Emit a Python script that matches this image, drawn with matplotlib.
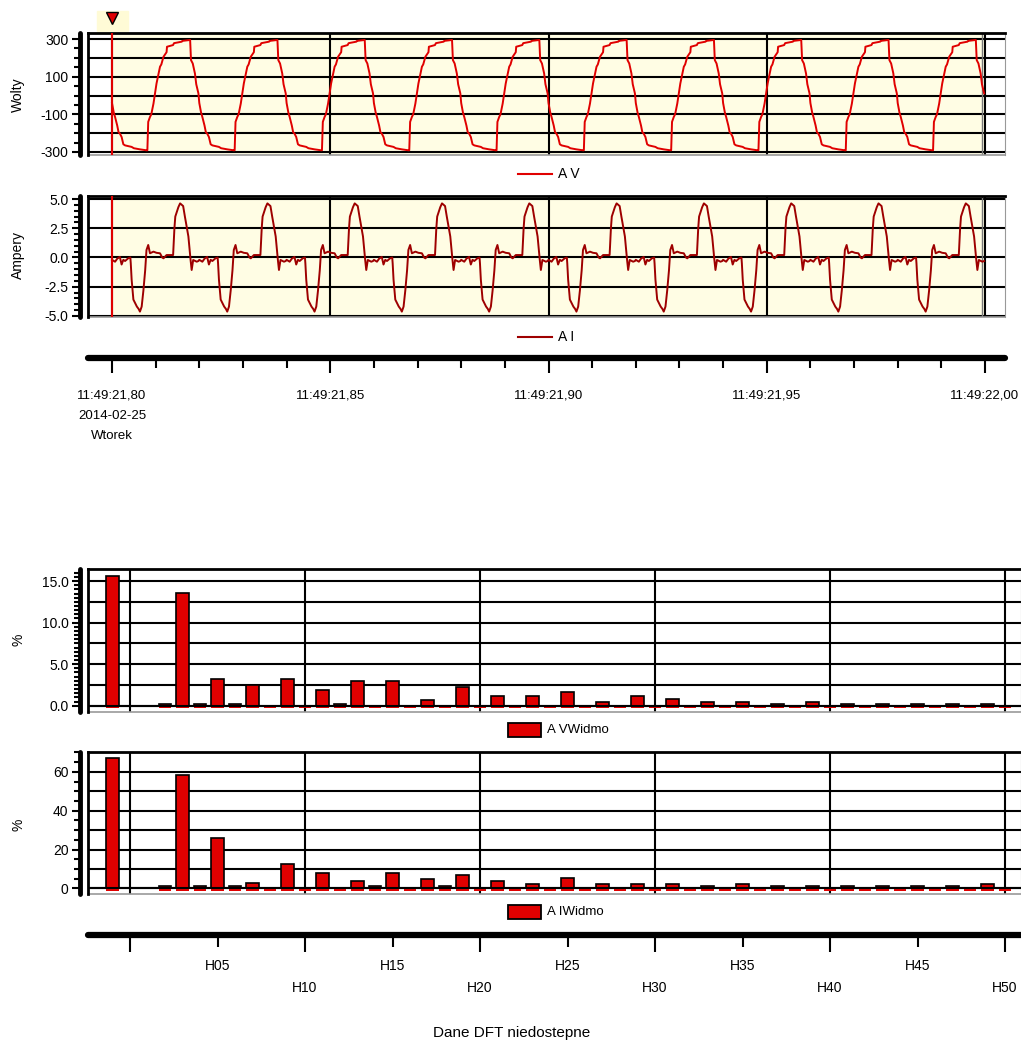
import matplotlib
matplotlib.use('Agg')
import matplotlib.pyplot as plt
import numpy as np
from matplotlib.lines import Line2D
from matplotlib.patches import Rectangle

plt.rcParams['font.family'] = ['Liberation Sans', 'DejaVu Sans']
plt.rcParams['font.size'] = 10
plt.rcParams['axes.unicode_minus'] = False
fs = 10

W, H = 1021, 1043

# one 20 ms period of each trace (ms, value)
v_cycle_t = [0.0, 0.4, 0.7, 1.2, 1.5, 1.8, 2.2, 2.6, 3.0, 4.5, 5.0, 6.4, 7.9, 8.1,
             8.3, 8.7, 9.0, 9.5, 10.2, 11.0, 11.3, 11.8, 12.5, 12.6, 14.0, 14.2,
             16.0, 16.1, 17.9, 18.1, 18.5, 19.0, 19.3, 19.8]
v_cycle = [-40, -90, -114, -160, -195, -202, -220, -259, -265, -273, -280, -286,
           -291, -291, -140, -114, -100, -43, 64, 153, 165, 206, 230, 259, 268,
           278, 286, 290, 295, 188, 170, 117, 60, 11]

i_cycle_t = [0.0, 0.7, 1.2, 1.8, 2.2, 2.6, 3.0, 3.7, 4.2, 4.3, 4.5, 4.9, 5.3, 5.7,
             6.1, 6.4, 6.8, 7.2, 7.6, 7.9, 8.3, 8.7, 9.5, 10.2, 11.0, 11.5, 11.8,
             12.5, 14.0, 14.3, 14.5, 15.2, 15.6, 16.0, 16.3, 16.7, 17.5, 18.0,
             18.25, 18.6, 19.4, 19.8]
i_cycle = [-0.2, -0.36, -0.1, 0.05, -0.6, -0.2, -0.3, -0.07, 0.0, -0.5, -1.9, -3.6,
           -3.9, -4.2, -4.4, -4.63, -4.2, -2.8, -1.1, 0.64, 1.07, 0.36, 0.5, 0.4,
           0.36, 0.0, -0.07, 0.21, 0.21, 2.5, 3.5, 4.3, 4.63, 4.5, 4.4, 3.5, 1.8,
           -0.2, -1.07, -0.21, -0.36, -0.3]
n_cycles = 10
period = 0.02

time_ticks = [0.0, 0.05, 0.10, 0.15, 0.20]
time_labels = ['11:49:21,80\n2014-02-25\nWtorek', '11:49:21,85', '11:49:21,90',
               '11:49:21,95', '11:49:22,00']

thd_pos = -1
harm = list(range(2, 51))
v_thd = 15.6
v_harm = [0.2, 13.6, 0.2, 3.2, 0.2, 2.5, 0, 3.2, 0, 1.85, 0.2, 2.95, 0, 2.95, 0, 0.7,
          0, 2.3, 0, 1.2, 0, 1.2, 0, 1.65, 0, 0.5, 0, 1.2, 0, 0.75, 0, 0.5, 0, 0.5,
          0, 0.25, 0, 0.5, 0, 0.25, 0, 0.25, 0, 0.25, 0, 0.25, 0, 0.25, 0]
i_thd = 66.9
i_harm = [1.0, 58.3, 1.0, 26.1, 1.0, 2.9, 0.3, 12.5, 0.3, 7.9, 0.3, 3.8, 1.0, 7.9,
          0.3, 4.8, 1.0, 6.9, 0.3, 4.0, 0.3, 2.2, 0.3, 5.2, 0.3, 2.2, 0.3, 2.2, 0.3,
          2.2, 0.3, 1.3, 0.3, 2.0, 0.3, 1.3, 0.3, 1.3, 0.3, 1.3, 0.3, 1.3, 0.3, 1.3,
          0.3, 1.3, 0.3, 2.0, 0.3]
harm_major = [0, 10, 20, 30, 40, 50]
harm_minor = [5, 15, 25, 35, 45]

red = '#E00000'
dark_red = '#9E0000'
bg = '#FFFDE4'


def frac(x0, y0, x1, y1):
    return [x0 / W, 1 - y1 / H, (x1 - x0) / W, (y1 - y0) / H]


def trace(ct, cv):
    t = np.concatenate([np.array(ct) / 1000 + k * period for k in range(n_cycles)])
    v = np.tile(cv, n_cycles)
    return t, v


def frame(ax):
    ax.spines['left'].set_position(('outward', 6))
    ax.spines['left'].set_linewidth(3.5)
    ax.spines['left'].set_capstyle('round')
    ax.spines['top'].set_linewidth(2)
    ax.spines['bottom'].set_color('#999999')
    ax.spines['bottom'].set_linewidth(1.2)
    ax.spines['right'].set_color('#999999')
    ax.plot([0, 0], [0, 1], transform=ax.transAxes, color='k', lw=2, clip_on=False, zorder=6)
    ax.tick_params(axis='x', which='both', bottom=False, labelbottom=False)
    ax.tick_params(axis='y', which='major', length=6, width=1.5, pad=2, labelsize=fs)
    ax.tick_params(axis='y', which='minor', length=4, width=1.5)


fig = plt.figure(figsize=(W / 100, H / 100), dpi=100)

t_left = (88 - 112) / 4365
t_right = (1005 - 112) / 4365

# cursor glow behind the marker
fig.patches.append(Rectangle((97 / W, 1 - 31 / H), 31 / W, 20 / H,
                             transform=fig.transFigure, color='#FFFBD6', zorder=-5))

axv = fig.add_axes(frac(88, 33, 1005, 155))
axi = fig.add_axes(frac(88, 196, 1005, 317))
for ax, ylim, grid, major, minor, col, ct, cv in [
        (axv, (-316, 332), np.arange(-300, 301, 100), [-300, -100, 100, 300],
         np.arange(-300, 301, 50), red, v_cycle_t, v_cycle),
        (axi, (-5.09, 5.26), [-5, -2.5, 0, 2.5, 5], [-5, -2.5, 0, 2.5, 5],
         np.arange(-5, 5.01, 0.5), dark_red, i_cycle_t, i_cycle)]:
    ax.set_xlim(t_left, t_right)
    ax.set_ylim(*ylim)
    ax.axvspan(0, 0.2, color=bg, lw=0, zorder=0)
    for g in grid:
        ax.axhline(g, color='k', lw=1.5, zorder=1)
    for tt in time_ticks:
        ax.axvline(tt, color='k', lw=1.5, zorder=1)
    ax.axvline(0.1993, color='#777777', lw=1, zorder=1)
    t, v = trace(ct, cv)
    ax.plot(t, v, color=col, lw=1.4, zorder=3)
    ax.axvline(0, color=red, lw=1.5, zorder=4)
    ax.set_yticks(major)
    ax.set_yticks(minor, minor=True)
    frame(ax)
axi.set_yticklabels(['-5.0', '-2.5', '0.0', '2.5', '5.0'])

axv.plot([0], [1 + 15 / 122], marker='v', ms=8, color=red, mec='k', mew=1,
         transform=axv.get_xaxis_transform(), clip_on=False, zorder=10)

fig.text(18 / W, 1 - 95 / H, 'Wolty', rotation=90, ha='center', va='center', fontsize=fs)
fig.text(18 / W, 1 - 255 / H, 'Ampery', rotation=90, ha='center', va='center', fontsize=fs)

for y, col, lab in [(174, red, 'A V'), (337, dark_red, 'A I')]:
    fig.add_artist(Line2D([518 / W, 552 / W], [1 - y / H, 1 - y / H], color=col, lw=1.5,
                          transform=fig.transFigure))
    fig.text(558 / W, 1 - y / H, lab, va='center', fontsize=fs)

# time axis
axt = fig.add_axes(frac(88, 357, 1005, 358))
axt.set_xlim(t_left, t_right)
for s in ['left', 'right', 'top']:
    axt.spines[s].set_visible(False)
axt.spines['bottom'].set_linewidth(4.5)
axt.spines['bottom'].set_capstyle('round')
axt.set_yticks([])
axt.set_xticks(time_ticks, time_labels)
axt.set_xticks(np.arange(0, 0.2001, 0.01), minor=True)
axt.tick_params(axis='x', which='major', length=11, width=1.5, pad=12, labelsize=9.5)
axt.tick_params(axis='x', which='minor', length=7, width=1.5)
for lbl in axt.get_xticklabels():
    lbl.set_linespacing(1.9)
axt.patch.set_alpha(0)

# spectra
h_left = (88 - 130) / 17.5
h_right = (1021 - 130) / 17.5
axsv = fig.add_axes(frac(88, 569, 1021, 712))
axsi = fig.add_axes(frac(88, 752, 1021, 894))
for ax, ylim, grid, major, minor, thd, vals, d in [
        (axsv, (-0.76, 16.45), np.arange(0, 15.1, 2.5), [0, 5, 10, 15],
         np.arange(0, 16.01, 0.5), v_thd, v_harm, 0.3),
        (axsi, (-2.9, 70.2), np.arange(0, 61, 10), [0, 20, 40, 60],
         np.arange(0, 70.1, 5), i_thd, i_harm, 1.2)]:
    ax.set_xlim(h_left, h_right)
    ax.set_ylim(*ylim)
    for g in grid:
        ax.axhline(g, color='k', lw=1.5, zorder=1)
    for k in harm_major:
        ax.axvline(k, color='k', lw=1.5, zorder=1)
    pos = [thd_pos] + harm
    hts = [thd] + vals
    ax.bar(pos, hts, width=0.7, color=red, edgecolor='k', lw=1.2, zorder=3)
    ax.bar(pos, [-d] * len(pos), width=0.7, color=red, lw=0, zorder=3.5)
    ax.axhline(0, color='k', lw=1.5, zorder=4)
    ax.set_yticks(major)
    ax.set_yticks(minor, minor=True)
    frame(ax)
axsv.set_yticklabels(['0.0', '5.0', '10.0', '15.0'])

fig.text(18 / W, 1 - 640 / H, '%', rotation=90, ha='center', va='center', fontsize=fs)
fig.text(18 / W, 1 - 825 / H, '%', rotation=90, ha='center', va='center', fontsize=fs)

for y, lab in [(730, 'A VWidmo'), (912, 'A IWidmo')]:
    fig.patches.append(Rectangle((508 / W, 1 - (y + 7) / H), 33 / W, 14 / H,
                                 transform=fig.transFigure, facecolor=red,
                                 edgecolor='k', lw=1.3))
    fig.text(547 / W, 1 - y / H, lab, va='center', fontsize=9.5)

# harmonic axis
axh = fig.add_axes(frac(88, 934, 1021, 935))
axh.set_xlim(h_left, h_right)
for s in ['left', 'right', 'top']:
    axh.spines[s].set_visible(False)
axh.spines['bottom'].set_linewidth(4.5)
axh.spines['bottom'].set_capstyle('round')
axh.set_yticks([])
axh.set_xticks(harm_major, [''] + ['H%02d' % k for k in harm_major[1:]])
axh.set_xticks(harm_minor, ['H%02d' % k for k in harm_minor], minor=True)
axh.tick_params(axis='x', which='major', length=12, width=1.5, pad=21, labelsize=fs)
axh.tick_params(axis='x', which='minor', length=8.5, width=1.5, pad=9, labelsize=fs)
axh.patch.set_alpha(0)

fig.text(512 / W, 1 - 1033 / H, 'Dane DFT niedostepne', ha='center', va='center',
         fontsize=11)

fig.savefig('out.png', dpi=100)
